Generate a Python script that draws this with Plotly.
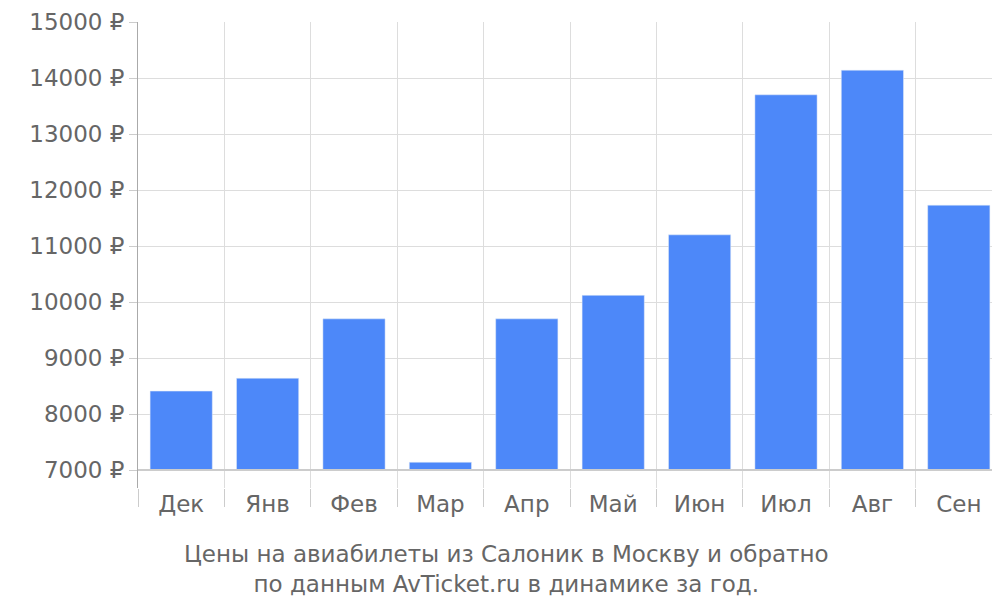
import plotly.graph_objects as go

months = ["Дек", "Янв", "Фев", "Мар", "Апр", "Май", "Июн", "Июл", "Авг", "Сен"]
prices = [8410, 8640, 9700, 7140, 9700, 10120, 11200, 13700, 14140, 11730]
base_price = 7000
yticks = list(range(7000, 15001, 1000))
ylabels = [f"{v} ₽" for v in yticks]

fig = go.Figure(go.Bar(x=months, y=[p - base_price for p in prices], base=base_price,
                       marker_color="#4d88f9", width=0.72, hoverinfo="skip"))
fig.update_layout(
    width=1000, height=600, plot_bgcolor="white", paper_bgcolor="white",
    margin=dict(l=130, r=6, t=14, b=120), showlegend=False,
    font=dict(family="DejaVu Sans", size=24, color="#666666"),
    xaxis=dict(tickson="boundaries", showgrid=True, gridcolor="#dddddd",
               ticks="outside", ticklen=18, tickcolor="#cccccc", automargin=False,
               showline=False, tickfont=dict(size=23, color="#666666")),
    yaxis=dict(range=[6680, 15000], tickvals=yticks, ticktext=ylabels, automargin=False,
               showgrid=True, gridcolor="#dddddd", ticks="outside", ticklen=8,
               tickcolor="#cccccc", showline=True, linecolor="#aaaaaa",
               zeroline=False, tickfont=dict(size=23, color="#666666")),
    annotations=[dict(text="Цены на авиабилеты из Салоник в Москву и обратно<br>по данным AvTicket.ru в динамике за год.",
                      xref="paper", yref="paper", x=0.427, y=-0.11, xanchor="center",
                      yanchor="top", showarrow=False,
                      font=dict(size=23, color="#666666"))],
    shapes=[dict(type="line", xref="paper", yref="y", x0=0, x1=1, y0=7000, y1=7000,
                 line=dict(color="#cccccc", width=2))],
)
fig.write_html("out.html")
